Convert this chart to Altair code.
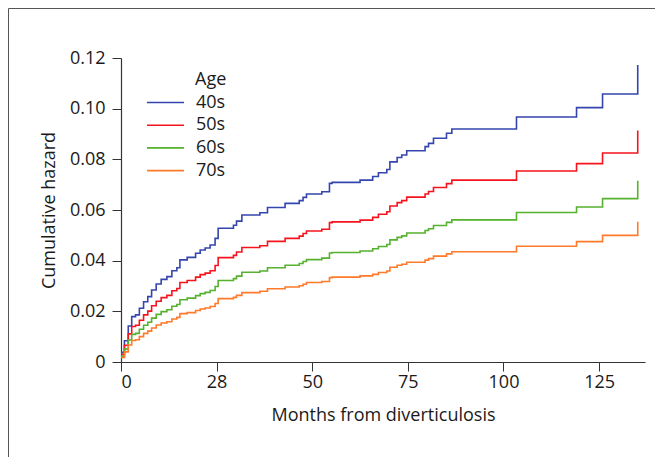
import altair as alt
import pandas as pd

# Step times (months) shared by all four age groups
months = [0, 0.9, 1.9, 2.8, 3.8, 4.8, 5.9, 7.0, 8.0, 9.2, 10.5, 12.0, 13.3, 14.6,
          15.4, 17.3, 19.5, 20.7, 22.0, 23.3, 24.6, 25.4, 29.4, 30.2, 31.6, 36.3,
          38.3, 42.9, 46.6, 47.6, 48.5, 52.5, 54.5, 55.2, 62.5, 65.8, 67.3, 69.5,
          70.3, 72.2, 73.4, 74.7, 79.5, 80.4, 81.7, 85.1, 86.5, 103.4, 119.1,
          125.9, 135.1]

haz_40s = [0.0038, 0.0084, 0.0142, 0.0179, 0.0186, 0.0212, 0.0238, 0.0258, 0.0284,
           0.0308, 0.0326, 0.0337, 0.0360, 0.0372, 0.0403, 0.0413, 0.0429, 0.0442,
           0.0450, 0.0462, 0.0488, 0.0528, 0.0540, 0.0556, 0.0580, 0.0589, 0.0610,
           0.0626, 0.0637, 0.0650, 0.0663, 0.0672, 0.0705, 0.0709, 0.0718, 0.0732,
           0.0747, 0.0760, 0.0790, 0.0807, 0.0817, 0.0834, 0.0850, 0.0863, 0.0883,
           0.0903, 0.0920, 0.0967, 0.1004, 0.1058, 0.1172]
haz_50s = [0.0030, 0.0066, 0.0111, 0.0140, 0.0145, 0.0165, 0.0186, 0.0201, 0.0222,
           0.0240, 0.0254, 0.0263, 0.0281, 0.0290, 0.0314, 0.0322, 0.0335, 0.0345,
           0.0351, 0.0360, 0.0381, 0.0412, 0.0421, 0.0434, 0.0452, 0.0459, 0.0476,
           0.0488, 0.0497, 0.0507, 0.0517, 0.0524, 0.0550, 0.0553, 0.0560, 0.0571,
           0.0583, 0.0593, 0.0616, 0.0629, 0.0637, 0.0651, 0.0663, 0.0673, 0.0689,
           0.0704, 0.0718, 0.0754, 0.0783, 0.0825, 0.0914]
haz_60s = [0.0023, 0.0051, 0.0087, 0.0109, 0.0113, 0.0129, 0.0145, 0.0157, 0.0173,
           0.0188, 0.0199, 0.0206, 0.0220, 0.0227, 0.0246, 0.0252, 0.0262, 0.0270,
           0.0275, 0.0282, 0.0298, 0.0322, 0.0329, 0.0339, 0.0354, 0.0359, 0.0372,
           0.0382, 0.0389, 0.0397, 0.0404, 0.0410, 0.0430, 0.0432, 0.0438, 0.0447,
           0.0456, 0.0464, 0.0482, 0.0492, 0.0498, 0.0509, 0.0519, 0.0526, 0.0539,
           0.0551, 0.0561, 0.0590, 0.0612, 0.0645, 0.0715]
haz_70s = [0.0018, 0.0040, 0.0067, 0.0085, 0.0088, 0.0100, 0.0113, 0.0122, 0.0134,
           0.0146, 0.0154, 0.0159, 0.0170, 0.0176, 0.0191, 0.0195, 0.0203, 0.0209,
           0.0213, 0.0219, 0.0231, 0.0250, 0.0255, 0.0263, 0.0274, 0.0279, 0.0289,
           0.0296, 0.0301, 0.0307, 0.0314, 0.0318, 0.0333, 0.0335, 0.0340, 0.0346,
           0.0353, 0.0359, 0.0374, 0.0382, 0.0386, 0.0394, 0.0402, 0.0408, 0.0418,
           0.0427, 0.0435, 0.0457, 0.0475, 0.0500, 0.0554]

groups = ["40s", "50s", "60s", "70s"]
colors = ["#3446ad", "#f5141e", "#56b12e", "#ff7a2a"]
series = [haz_40s, haz_50s, haz_60s, haz_70s]

rows = []
for g, vals in zip(groups, series):
    for m, v in zip(months, vals):
        rows.append({"month": m, "hazard": v, "age": g})
df = pd.DataFrame(rows)

FONT = "Open Sans"

lines = alt.Chart(df).mark_line(interpolate="step-after", strokeWidth=1.6).encode(
    x=alt.X("month:Q",
            scale=alt.Scale(domain=[0, 137], nice=False, zero=False),
            axis=alt.Axis(title="Months from diverticulosis",
                          values=[0, 25, 50, 75, 100, 125],
                          labelExpr="datum.value == 25 ? '28' : datum.label",
                          grid=False, labelPadding=2, titlePadding=15)),
    y=alt.Y("hazard:Q",
            scale=alt.Scale(domain=[0, 0.12], nice=False),
            axis=alt.Axis(title="Cumulative hazard",
                          values=[0, 0.02, 0.04, 0.06, 0.08, 0.1, 0.12],
                          labelExpr="datum.value == 0 ? '0' : format(datum.value, '.2f')",
                          grid=False, labelPadding=7, titlePadding=11)),
    color=alt.Color("age:N",
                    scale=alt.Scale(domain=groups, range=colors),
                    legend=alt.Legend(title=None, orient="none",
                                      legendX=34, legendY=34,
                                      symbolType="M-2,0H2", symbolSize=342,
                                      symbolStrokeWidth=1.6,
                                      labelOffset=20, rowPadding=2.7,
                                      labelFontSize=18, labelFont=FONT,
                                      labelColor="#1a1a1a")),
)

age_title = alt.Chart(alt.Data(values=[{"t": "Age"}])).mark_text(
    align="left", baseline="alphabetic", fontSize=18, font=FONT, color="#1a1a1a"
).encode(x=alt.value(74), y=alt.value(27), text="t:N")

frame = alt.Chart(alt.Data(values=[{"a": 1}])).mark_rect(
    fill=None, stroke="#555555", strokeWidth=1
).encode(x=alt.value(-112.5), x2=alt.value(700), y=alt.value(-49.5), y2=alt.value(700))

chart = alt.layer(frame, lines, age_title).properties(
    width=524, height=304,
    autosize=alt.AutoSizeParams(type="none"),
    padding={"left": 113, "top": 50, "right": 10, "bottom": 95},
).configure_view(stroke=None).configure_axis(
    domainColor="#333333", tickColor="#333333", tickSize=9, domainWidth=1.2,
    labelFont=FONT, labelFontSize=18, labelColor="#1a1a1a",
    titleFont=FONT, titleFontSize=18, titleFontWeight="normal", titleColor="#1a1a1a",
)

chart.save("out.html", embed_options={"renderer": "svg", "actions": False})
